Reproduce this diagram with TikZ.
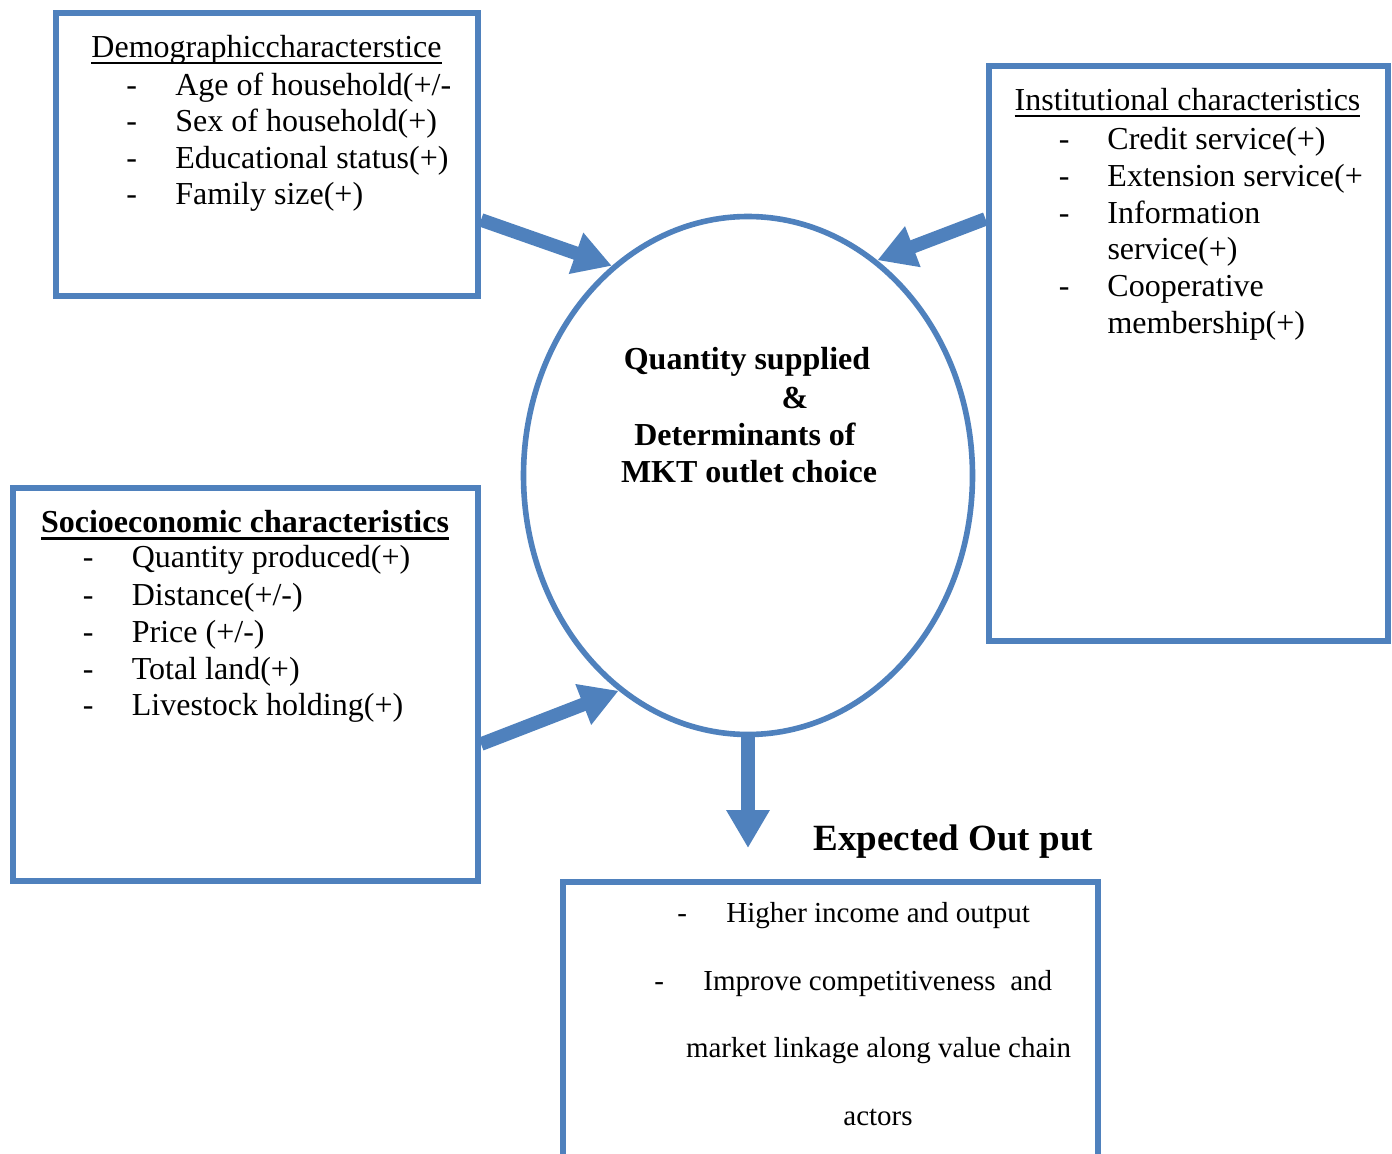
\documentclass[tikz,border=0pt]{standalone}
\usepackage{fontspec}
\setmainfont{Liberation Serif}
\usetikzlibrary{arrows.meta,shapes.geometric}
\definecolor{boxblue}{RGB}{79,129,189}
\newcommand\myul[3]{\setbox0\hbox{#3}\rlap{\rule[#1]{\wd0}{#2}}\box0}
\newcommand\dsh[1]{\makebox[#1][l]{-}}
\tikzset{
  box/.style={draw=boxblue, line width=3pt, rectangle, inner sep=0pt},
  txt/.style={anchor=base west, inner sep=0pt, font=\fontsize{16pt}{18pt}\selectfont},
  btxt/.style={anchor=base, inner sep=0pt, font=\fontsize{16pt}{18pt}\selectfont\bfseries},
  otxt/.style={anchor=base west, inner sep=0pt, font=\fontsize{14.5pt}{17pt}\selectfont},
  arr/.style={draw=boxblue, line width=6.8pt, -{Triangle[length=19pt,width=20.5pt]}}
}
\begin{document}
\begin{tikzpicture}[x=0.5pt,y=-0.5pt]
\useasboundingbox (0,0) rectangle (1392,1154);
\clip (0,0) rectangle (1392,1154);
\fill[white] (0,0) rectangle (1392,1154);

% boxes
\node[box, minimum width=211pt, minimum height=141.25pt] (demo) at (267,154.75) {};
\node[box, minimum width=199.75pt, minimum height=287.25pt] (inst) at (1188.25,353.75) {};
\node[box, minimum width=232.5pt, minimum height=196.5pt] (socio) at (245.5,684.5) {};
\node[box, minimum width=267.5pt, minimum height=144.25pt] (out) at (830.5,1025.75) {};
\node[draw=boxblue, line width=2.8pt, ellipse, inner sep=0pt, minimum width=224.5pt, minimum height=259pt] (ell) at (748,475.5) {};

% demographic
\node[txt, anchor=base] (dt) at (266.5,58) {\myul{-3pt}{1pt}{Demographiccharacterstice}};
\node[txt] (d1) at (126,95.5) {\dsh{24.5pt}Age of household(+/-};
\node[txt] (d2) at (126,132) {\dsh{24.5pt}Sex of household(+)};
\node[txt] (d3) at (126,168.5) {\dsh{24.5pt}Educational status(+)};
\node[txt] (d4) at (126,205) {\dsh{24.5pt}Family size(+)};

% institutional
\node[txt, anchor=base] (it) at (1187.5,111) {\myul{-3pt}{1pt}{Institutional characteristics}};
\node[txt] (i1) at (1058.5,149.5) {\dsh{24.3pt}Credit service(+)};
\node[txt] (i2) at (1058.5,186.3) {\dsh{24.3pt}Extension service(+};
\node[txt] (i3) at (1058.5,223.1) {\dsh{24.3pt}Information};
\node[txt] (i4) at (1058.5,259.9) {\hspace*{24.3pt}service(+)};
\node[txt] (i5) at (1058.5,296.7) {\dsh{24.3pt}Cooperative};
\node[txt] (i6) at (1058.5,333.5) {\hspace*{24.3pt}membership(+)};

% socioeconomic
\node[btxt] (st) at (245,532.5) {\myul{-3.8pt}{1.4pt}{Socioeconomic characteristics}};
\node[txt] (s1) at (82.5,568) {\dsh{24.5pt}Quantity produced(+)};
\node[txt] (s2) at (82.5,605) {\dsh{24.5pt}Distance(+/-)};
\node[txt] (s3) at (82.5,642) {\dsh{24.5pt}Price (+/-)};
\node[txt] (s4) at (82.5,679) {\dsh{24.5pt}Total land(+)};
\node[txt] (s5) at (82.5,715.5) {\dsh{24.5pt}Livestock holding(+)};

% ellipse text
\node[btxt] (e1) at (747,370) {Quantity supplied};
\node[btxt] (e2) at (795,408.5) {\&};
\node[btxt] (e3) at (745,446) {Determinants of};
\node[btxt] (e4) at (749,483) {MKT outlet choice};

% expected output
\node[anchor=base west, inner sep=0pt, font=\fontsize{18.5pt}{22pt}\selectfont\bfseries] (eo) at (813,850) {Expected Out put};
\node[otxt] (o1) at (677,922.5) {\dsh{24.5pt}Higher income and output};
\node[otxt] (o2) at (654,990) {\dsh{24.5pt}Improve competitiveness\ \ and};
\node[otxt, anchor=base] (o3) at (878.5,1057.5) {market linkage along value chain};
\node[otxt, anchor=base] (o4) at (878,1125) {actors};

% arrows
\coordinate (tip4) at (748,848);
\draw[arr] ([yshift=-32.6pt]demo.east) -- (ell.123.6);
\draw[arr] ([yshift=67.4pt]inst.west) -- (ell.59.8);
\draw[arr] ([yshift=-29.8pt]socio.east) -- (ell.239.9);
\draw[arr] (ell.south) -- (tip4);
\end{tikzpicture}
\end{document}
